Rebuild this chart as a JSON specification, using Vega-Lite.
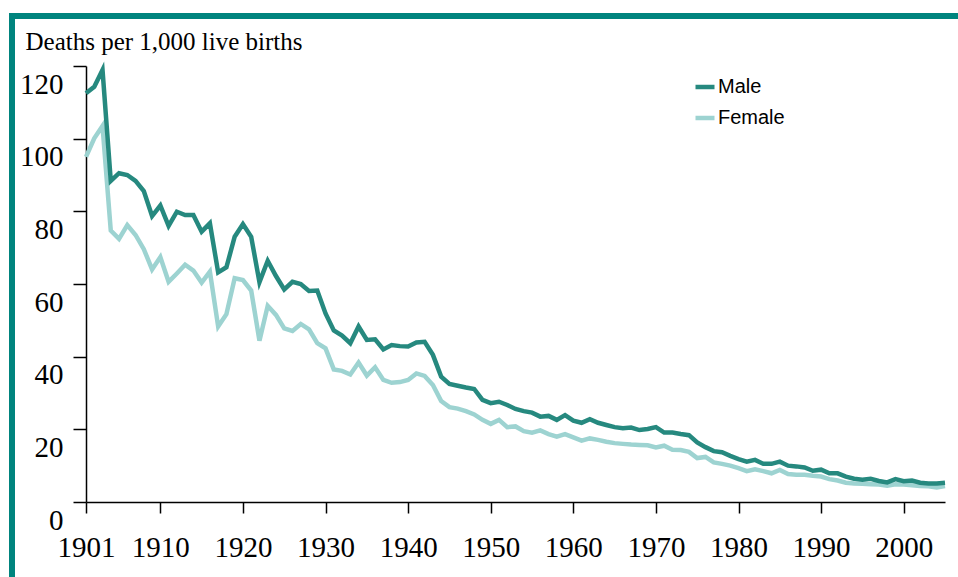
{
  "$schema": "https://vega.github.io/schema/vega-lite/v6.json",
  "autosize": {"type": "none"},
  "padding": {"left": 12, "top": 16, "right": -4, "bottom": -4},
  "width": 950,
  "height": 565,
  "background": "white",
  "config": {
    "view": {"stroke": "#00847e", "strokeWidth": 6},
    "font": "Liberation Serif"
  },
  "data": {
    "values": [
      {"year": 1901, "Male": 112.5, "Female": 95.0},
      {"year": 1902, "Male": 114.3, "Female": 100.1},
      {"year": 1903, "Male": 118.9, "Female": 103.5},
      {"year": 1904, "Male": 88.4, "Female": 74.7},
      {"year": 1905, "Male": 90.5, "Female": 72.4},
      {"year": 1906, "Male": 90.0, "Female": 76.2},
      {"year": 1907, "Male": 88.4, "Female": 73.5},
      {"year": 1908, "Male": 85.6, "Female": 69.6},
      {"year": 1909, "Male": 78.7, "Female": 64.0},
      {"year": 1910, "Male": 81.6, "Female": 67.4},
      {"year": 1911, "Male": 76.0, "Female": 60.6},
      {"year": 1912, "Male": 79.9, "Female": 62.9},
      {"year": 1913, "Male": 79.0, "Female": 65.3},
      {"year": 1914, "Male": 79.0, "Female": 63.7},
      {"year": 1915, "Male": 74.4, "Female": 60.4},
      {"year": 1916, "Male": 76.7, "Female": 63.4},
      {"year": 1917, "Male": 63.2, "Female": 48.3},
      {"year": 1918, "Male": 64.6, "Female": 51.7},
      {"year": 1919, "Male": 73.0, "Female": 61.6},
      {"year": 1920, "Male": 76.5, "Female": 61.1},
      {"year": 1921, "Male": 73.0, "Female": 58.2},
      {"year": 1922, "Male": 60.5, "Female": 44.4},
      {"year": 1923, "Male": 66.4, "Female": 54.0},
      {"year": 1924, "Male": 62.2, "Female": 51.5},
      {"year": 1925, "Male": 58.5, "Female": 47.8},
      {"year": 1926, "Male": 60.6, "Female": 47.1},
      {"year": 1927, "Male": 60.0, "Female": 49.0},
      {"year": 1928, "Male": 58.1, "Female": 47.5},
      {"year": 1929, "Male": 58.2, "Female": 43.7},
      {"year": 1930, "Male": 51.9, "Female": 42.3},
      {"year": 1931, "Male": 47.2, "Female": 36.5},
      {"year": 1932, "Male": 45.8, "Female": 36.1},
      {"year": 1933, "Male": 43.7, "Female": 35.1},
      {"year": 1934, "Male": 48.3, "Female": 38.4},
      {"year": 1935, "Male": 44.6, "Female": 34.8},
      {"year": 1936, "Male": 44.8, "Female": 37.1},
      {"year": 1937, "Male": 42.0, "Female": 33.6},
      {"year": 1938, "Male": 43.2, "Female": 32.8},
      {"year": 1939, "Male": 42.9, "Female": 33.0},
      {"year": 1940, "Male": 42.8, "Female": 33.6},
      {"year": 1941, "Male": 43.9, "Female": 35.4},
      {"year": 1942, "Male": 44.1, "Female": 34.7},
      {"year": 1943, "Male": 40.5, "Female": 32.2},
      {"year": 1944, "Male": 34.5, "Female": 27.8},
      {"year": 1945, "Male": 32.5, "Female": 26.1},
      {"year": 1946, "Male": 32.0, "Female": 25.7},
      {"year": 1947, "Male": 31.5, "Female": 25.0},
      {"year": 1948, "Male": 31.1, "Female": 24.1},
      {"year": 1949, "Male": 28.1, "Female": 22.6},
      {"year": 1950, "Male": 27.2, "Female": 21.5},
      {"year": 1951, "Male": 27.6, "Female": 22.6},
      {"year": 1952, "Male": 26.7, "Female": 20.6},
      {"year": 1953, "Male": 25.6, "Female": 20.8},
      {"year": 1954, "Male": 25.0, "Female": 19.5},
      {"year": 1955, "Male": 24.6, "Female": 19.1},
      {"year": 1956, "Male": 23.5, "Female": 19.7},
      {"year": 1957, "Male": 23.7, "Female": 18.7},
      {"year": 1958, "Male": 22.6, "Female": 18.0},
      {"year": 1959, "Male": 23.9, "Female": 18.7},
      {"year": 1960, "Male": 22.4, "Female": 17.8},
      {"year": 1961, "Male": 21.8, "Female": 16.9},
      {"year": 1962, "Male": 22.8, "Female": 17.5},
      {"year": 1963, "Male": 21.8, "Female": 17.1},
      {"year": 1964, "Male": 21.2, "Female": 16.6},
      {"year": 1965, "Male": 20.6, "Female": 16.2},
      {"year": 1966, "Male": 20.3, "Female": 16.0},
      {"year": 1967, "Male": 20.5, "Female": 15.8},
      {"year": 1968, "Male": 19.8, "Female": 15.7},
      {"year": 1969, "Male": 20.1, "Female": 15.6},
      {"year": 1970, "Male": 20.6, "Female": 15.0},
      {"year": 1971, "Male": 19.1, "Female": 15.5},
      {"year": 1972, "Male": 19.1, "Female": 14.4},
      {"year": 1973, "Male": 18.7, "Female": 14.3},
      {"year": 1974, "Male": 18.4, "Female": 13.8},
      {"year": 1975, "Male": 16.4, "Female": 12.1},
      {"year": 1976, "Male": 15.1, "Female": 12.4},
      {"year": 1977, "Male": 14.0, "Female": 10.9},
      {"year": 1978, "Male": 13.7, "Female": 10.5},
      {"year": 1979, "Male": 12.7, "Female": 10.0},
      {"year": 1980, "Male": 11.8, "Female": 9.3},
      {"year": 1981, "Male": 11.1, "Female": 8.5},
      {"year": 1982, "Male": 11.6, "Female": 9.0},
      {"year": 1983, "Male": 10.5, "Female": 8.5},
      {"year": 1984, "Male": 10.5, "Female": 7.9},
      {"year": 1985, "Male": 11.1, "Female": 8.8},
      {"year": 1986, "Male": 10.0, "Female": 7.7},
      {"year": 1987, "Male": 9.8, "Female": 7.5},
      {"year": 1988, "Male": 9.5, "Female": 7.5},
      {"year": 1989, "Male": 8.6, "Female": 7.2},
      {"year": 1990, "Male": 8.9, "Female": 7.0},
      {"year": 1991, "Male": 7.9, "Female": 6.3},
      {"year": 1992, "Male": 7.9, "Female": 5.9},
      {"year": 1993, "Male": 7.0, "Female": 5.3},
      {"year": 1994, "Male": 6.4, "Female": 5.1},
      {"year": 1995, "Male": 6.1, "Female": 5.0},
      {"year": 1996, "Male": 6.4, "Female": 4.9},
      {"year": 1997, "Male": 5.8, "Female": 4.8},
      {"year": 1998, "Male": 5.4, "Female": 4.5},
      {"year": 1999, "Male": 6.3, "Female": 4.9},
      {"year": 2000, "Male": 5.7, "Female": 4.8},
      {"year": 2001, "Male": 5.9, "Female": 4.6},
      {"year": 2002, "Male": 5.3, "Female": 4.4},
      {"year": 2003, "Male": 5.1, "Female": 4.3},
      {"year": 2004, "Male": 5.1, "Female": 4.0},
      {"year": 2005, "Male": 5.3, "Female": 4.4}
    ]
  },
  "transform": [{"fold": ["Female", "Male"], "as": ["sex", "rate"]}],
  "mark": {"type": "line", "strokeWidth": 4.5, "clip": false},
  "encoding": {
    "x": {
      "field": "year",
      "type": "quantitative",
      "scale": {"domain": [1901, 2005], "range": [74, 933], "nice": false, "zero": false},
      "axis": {
        "orient": "bottom",
        "offset": -79,
        "values": [1901, 1910, 1920, 1930, 1940, 1950, 1960, 1970, 1980, 1990, 2000],
        "format": "d",
        "title": null,
        "grid": false,
        "domainColor": "#000000",
        "domainWidth": 1.5,
        "tickColor": "#000000",
        "tickWidth": 1.5,
        "tickSize": 11,
        "labelFont": "Liberation Serif",
        "labelFontSize": 29,
        "labelColor": "#000000",
        "labelPadding": 20,
        "labelFlush": false,
        "labelOverlap": false
      }
    },
    "y": {
      "field": "rate",
      "type": "quantitative",
      "scale": {"domain": [0, 120], "range": [486, 50], "nice": false},
      "axis": {
        "orient": "left",
        "offset": -74,
        "values": [0, 20, 40, 60, 80, 100, 120],
        "title": "Deaths per 1,000 live births",
        "titleAngle": 0,
        "titleAlign": "left",
        "titleBaseline": "alphabetic",
        "titleX": -61,
        "titleY": 33,
        "titleFont": "Liberation Serif",
        "titleFontSize": 25,
        "titleFontWeight": "normal",
        "titleColor": "#000000",
        "grid": false,
        "domainColor": "#000000",
        "domainWidth": 1.5,
        "tickColor": "#000000",
        "tickWidth": 1.5,
        "tickSize": 13,
        "labelFont": "Liberation Serif",
        "labelFontSize": 29,
        "labelColor": "#000000",
        "labelPadding": 10,
        "labelBaseline": "middle",
        "labelOffset": 18,
        "labelFlush": false,
        "labelOverlap": false
      }
    },
    "color": {
      "field": "sex",
      "type": "nominal",
      "scale": {"domain": ["Male", "Female"], "range": ["#26897f", "#9dd3d1"]},
      "legend": {
        "title": null,
        "orient": "none",
        "legendX": 681,
        "legendY": 59,
        "padding": 0,
        "symbolType": "stroke",
        "symbolSize": 361,
        "symbolStrokeWidth": 4.5,
        "labelFont": "Liberation Sans",
        "labelFontSize": 20,
        "labelColor": "#000000",
        "labelOffset": 1,
        "rowPadding": 9
      }
    }
  }
}
